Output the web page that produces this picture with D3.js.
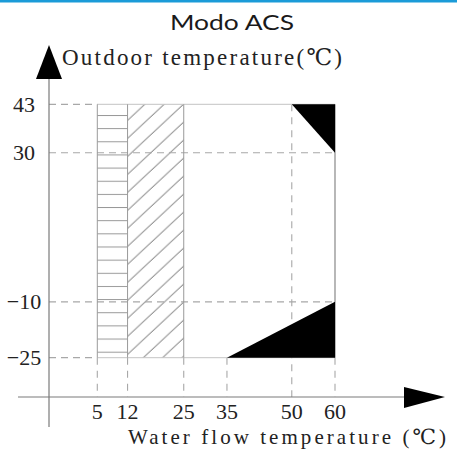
<!DOCTYPE html>
<html><head><meta charset="utf-8">
<script src="https://cdn.jsdelivr.net/npm/d3@7"></script>
<style>
html,body{margin:0;padding:0;background:#fff;}
svg{display:block;}
</style></head>
<body>
<script>
// ---- data ----
const title = "Modo ACS";
const yTitle = "Outdoor temperature(℃)";
const xTitle = "Water flow temperature (℃)";
const xTicks = [5, 12, 25, 35, 50, 60];
const yTicks = [43, 30, -10, -25];
const bandHoriz = [5, 12];     // horizontal hatch band
const bandDiag = [12, 25];     // diagonal hatch band
const rangeX = [5, 60];
const rangeY = [-25, 43];
const triTop = [[50, 43], [60, 43], [60, 30]];
const triBottom = [[35, -25], [60, -25], [60, -10]];
const hGuidesFull = [30, -10];
const hGuidesShort = [43, -25];
const vGuidesBelow = [5, 12, 25, 35, 60];
const vGuidesFull = [50];

// ---- layout ----
const W = 457, H = 450;
const svg = d3.select("body").append("svg").attr("width", W).attr("height", H);
const x = d3.scaleLinear().domain([5, 60]).range([97.3, 335]);
const y = d3.scaleLinear().domain([-25, 43]).range([357.7, 104.3]);
const axisX0 = 49, axisY0 = 397;

svg.append("rect").attr("x", 0).attr("y", 0).attr("width", W).attr("height", 2.5).attr("fill", "#1b9bd8");

svg.append("text").attr("x", 232).attr("y", 30).attr("text-anchor", "middle")
  .attr("font-family", "Lato, 'Open Sans', sans-serif").attr("font-size", 21)
  .attr("fill", "#1a1a1a").attr("textLength", 124).attr("lengthAdjust", "spacingAndGlyphs").text(title);

const defs = svg.append("defs");
const ph = 13.15;
defs.append("pattern").attr("id", "hpat").attr("patternUnits", "userSpaceOnUse")
  .attr("x", 0).attr("y", 115 % ph).attr("width", 20).attr("height", ph)
  .append("line").attr("x1", 0).attr("x2", 20).attr("y1", 0.5).attr("y2", 0.5)
  .attr("stroke", "#8a8a8a").attr("stroke-width", 0.9);
const dw = 19.3, dh = 18.0;
const dp = defs.append("pattern").attr("id", "dpat").attr("patternUnits", "userSpaceOnUse")
  .attr("x", 143.3).attr("y", 357.7).attr("width", dw).attr("height", dh);
[[[-dw * 0.5, dh * 1.5], [dw * 1.5, -dh * 0.5]],
 [[-dw * 0.5, dh * 0.5], [dw * 0.5, -dh * 0.5]],
 [[dw * 0.5, dh * 1.5], [dw * 1.5, dh * 0.5]]].forEach(s => {
  dp.append("line").attr("x1", s[0][0]).attr("y1", s[0][1]).attr("x2", s[1][0]).attr("y2", s[1][1])
    .attr("stroke", "#555").attr("stroke-width", 0.9);
});

svg.append("rect").attr("x", x(bandHoriz[0])).attr("y", y(rangeY[1]))
  .attr("width", x(bandHoriz[1]) - x(bandHoriz[0])).attr("height", y(rangeY[0]) - y(rangeY[1]))
  .attr("fill", "url(#hpat)");
svg.append("rect").attr("x", x(bandDiag[0])).attr("y", y(rangeY[1]))
  .attr("width", x(bandDiag[1]) - x(bandDiag[0])).attr("height", y(rangeY[0]) - y(rangeY[1]))
  .attr("fill", "url(#dpat)");

const dash = "7,5";
const gcol = "#a8a8a8";
hGuidesFull.forEach(v => svg.append("line").attr("x1", axisX0).attr("x2", x(rangeX[1]))
  .attr("y1", y(v)).attr("y2", y(v)).attr("stroke", gcol).attr("stroke-width", 1.2).attr("stroke-dasharray", dash));
hGuidesShort.forEach(v => svg.append("line").attr("x1", axisX0).attr("x2", x(rangeX[0]))
  .attr("y1", y(v)).attr("y2", y(v)).attr("stroke", gcol).attr("stroke-width", 1.2).attr("stroke-dasharray", dash));
vGuidesBelow.forEach(v => svg.append("line").attr("x1", x(v)).attr("x2", x(v))
  .attr("y1", y(rangeY[0])).attr("y2", axisY0).attr("stroke", gcol).attr("stroke-width", 1.1).attr("stroke-dasharray", "7,6"));
vGuidesFull.forEach(v => svg.append("line").attr("x1", x(v)).attr("x2", x(v))
  .attr("y1", y(rangeY[1])).attr("y2", axisY0).attr("stroke", gcol).attr("stroke-width", 1.1).attr("stroke-dasharray", "7,6"));

const ocol = "#9a9a9a";
svg.append("line").attr("x1", x(rangeX[0])).attr("x2", x(rangeX[1])).attr("y1", y(rangeY[1])).attr("y2", y(rangeY[1]))
  .attr("stroke", "#c4c4c4").attr("stroke-width", 1);
svg.append("line").attr("x1", x(rangeX[0])).attr("x2", x(rangeX[1])).attr("y1", y(rangeY[0])).attr("y2", y(rangeY[0]))
  .attr("stroke", "#c4c4c4").attr("stroke-width", 1);
[bandHoriz[0], bandHoriz[1], bandDiag[1]].forEach(v => svg.append("line").attr("x1", x(v)).attr("x2", x(v))
  .attr("y1", y(rangeY[1])).attr("y2", y(rangeY[0])).attr("stroke", ocol).attr("stroke-width", 1));
svg.append("line").attr("x1", x(rangeX[1])).attr("x2", x(rangeX[1])).attr("y1", y(rangeY[1])).attr("y2", y(rangeY[0]))
  .attr("stroke", "#888").attr("stroke-width", 1.2);

const line = d3.line().x(d => x(d[0])).y(d => y(d[1]));
[triTop, triBottom].forEach(t => svg.append("path").attr("d", line(t) + "Z").attr("fill", "#000"));

svg.append("line").attr("x1", 18).attr("x2", 406).attr("y1", axisY0).attr("y2", axisY0).attr("stroke", "#7a7a7a").attr("stroke-width", 1.2);
svg.append("line").attr("x1", axisX0).attr("x2", axisX0).attr("y1", 78).attr("y2", 427).attr("stroke", "#7a7a7a").attr("stroke-width", 1.2);
svg.append("path").attr("d", `M${axisX0},45 L62,79 L36,79 Z`).attr("fill", "#000");
svg.append("path").attr("d", `M445,${axisY0} L404,387 L404,408 Z`).attr("fill", "#000");

const tf = "'Liberation Serif', 'DejaVu Serif', serif";
svg.selectAll(".xt").data(xTicks).enter().append("text")
  .attr("x", d => x(d)).attr("y", 419).attr("text-anchor", "middle")
  .attr("font-family", tf).attr("font-size", 22).attr("fill", "#222").text(d => d);
svg.selectAll(".yt").data(yTicks).enter().append("text")
  .attr("x", 24).attr("y", d => y(d) + 7.5).attr("text-anchor", "middle")
  .attr("font-family", tf).attr("font-size", 22).attr("fill", "#222").text(d => String(d).replace("-", "\u2212"));

svg.append("text").attr("x", 62).attr("y", 65).attr("font-family", tf).attr("font-size", 23)
  .attr("fill", "#222").attr("textLength", 280).attr("lengthAdjust", "spacing").text(yTitle);
svg.append("text").attr("x", 128).attr("y", 444).attr("font-family", tf).attr("font-size", 21)
  .attr("fill", "#222").attr("textLength", 318).attr("lengthAdjust", "spacing").text(xTitle);
</script>
</body></html>
